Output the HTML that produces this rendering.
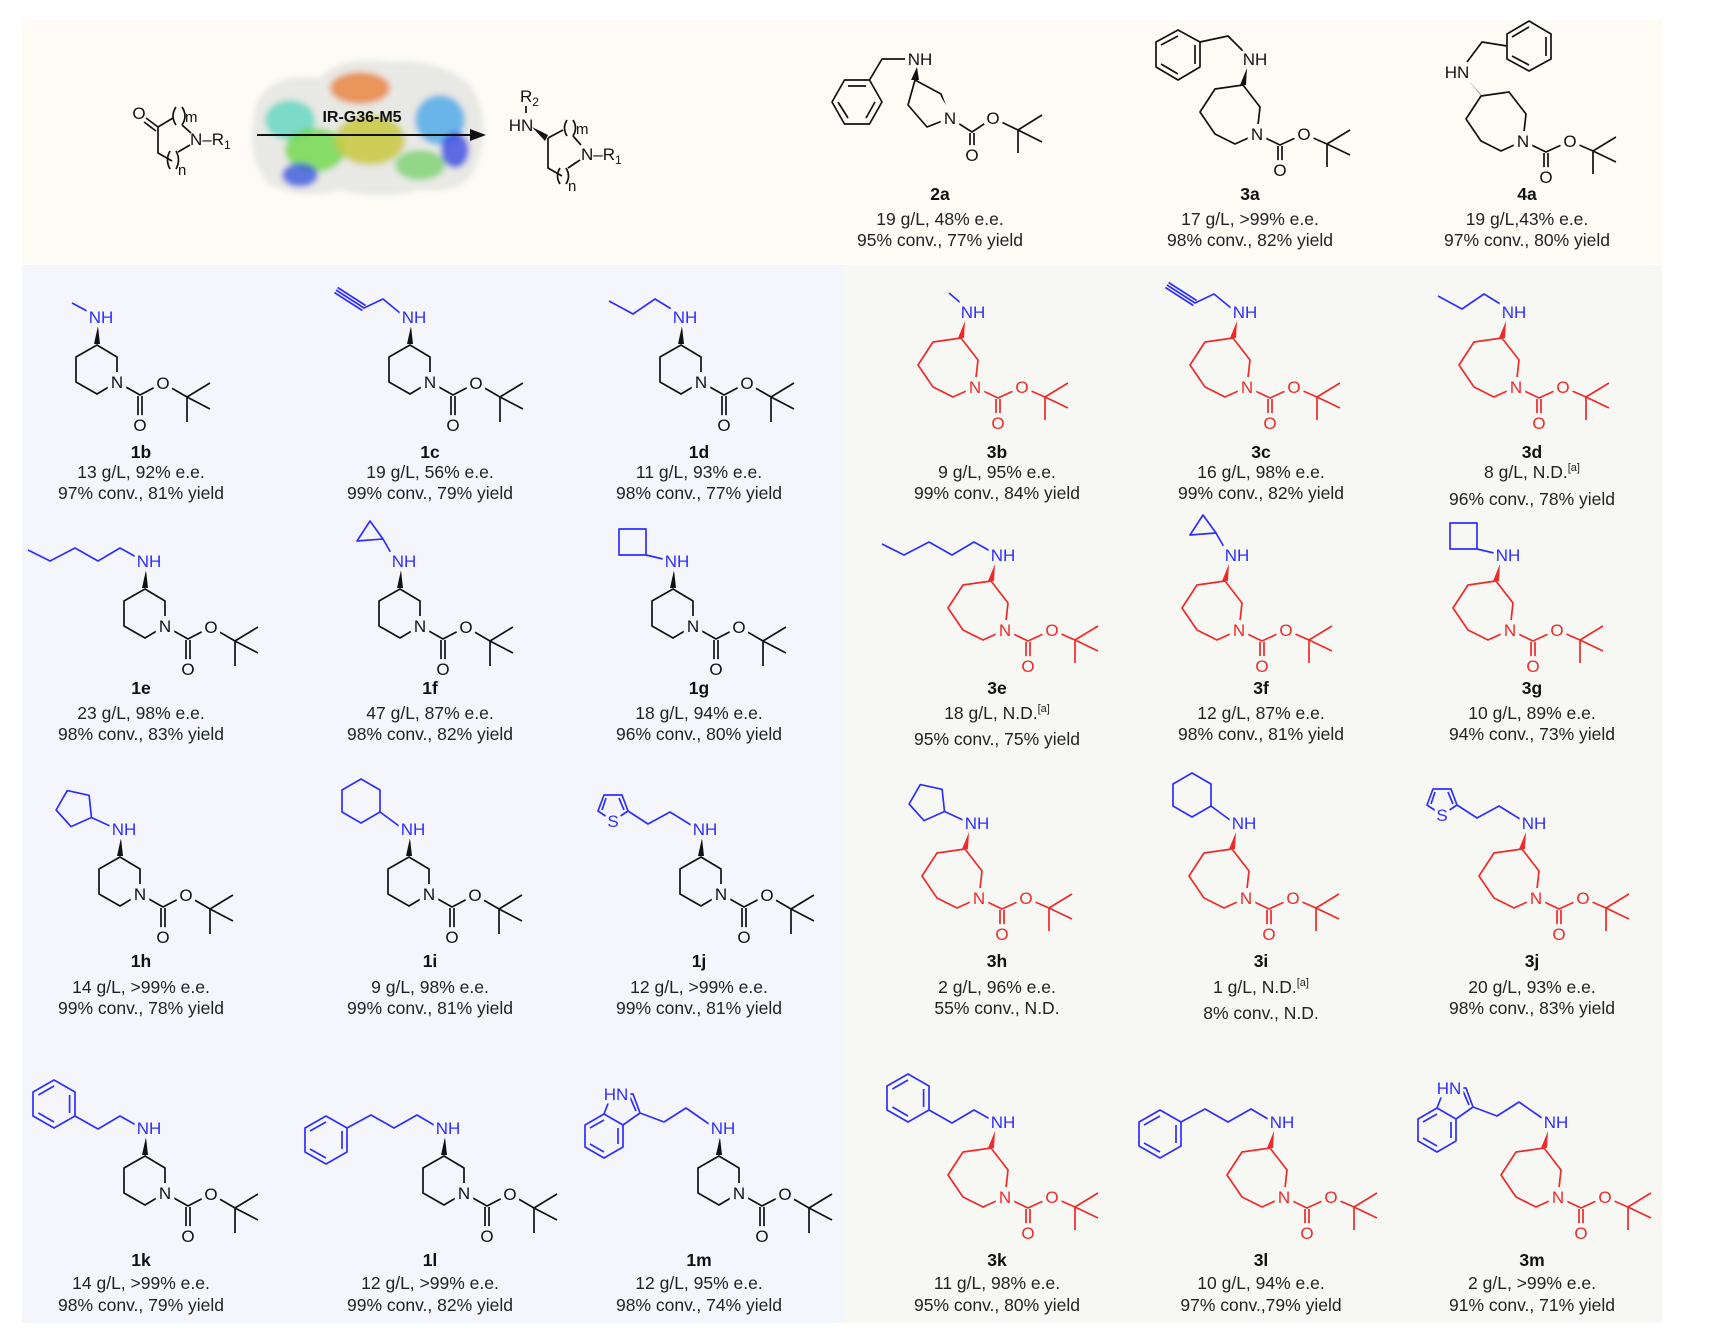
<!DOCTYPE html>
<html><head><meta charset="utf-8"><style>
html,body{margin:0;padding:0;background:#fff;}
svg{display:block;font-family:"Liberation Sans",sans-serif;}
.t{font-size:17.5px;fill:#222;text-anchor:middle;}
.id{font-size:17.5px;font-weight:bold;fill:#111;text-anchor:middle;}
.a{font-size:17px;fill:#111;text-anchor:middle;paint-order:stroke;stroke-width:9px;}
.ar{font-size:17px;fill:#ee2a2a;text-anchor:middle;paint-order:stroke;stroke-width:9px;}
.b{font-size:17px;fill:#2e2eff;text-anchor:middle;paint-order:stroke;stroke-width:7px;}
.hL{stroke:#f5f6fb;} .hR{stroke:#f7f8f4;} .hT{stroke:#fdfbf4;}
.k{fill:none;stroke:#111;stroke-width:1.7;stroke-linejoin:round;}
.r{fill:none;stroke:#ee2a2a;stroke-width:1.7;stroke-linejoin:round;}
.bl{fill:none;stroke:#2e2eff;stroke-width:1.7;stroke-linejoin:round;}
</style></head><body>
<svg width="1731" height="1338" viewBox="0 0 1731 1338" xmlns="http://www.w3.org/2000/svg">
<defs>
<path id="pip" class="k" d="M0,0 L20,12 L20,37 L0,49 L-21,37 L-21,12 Z M20,37 L43,50 L66,38 L90,52 L113,38 M90,52 L113,64 M90,52 L90,77 M41,51 L41,75 M45,51 L45,75"/>
<path id="azp" class="r" d="M0,0 L17,22 L14,49 L-8,59 L-28,49 L-43,27 L-28,4 Z M14,49 L37,60 L61,49 L84,59 L107,45 M84,59 L107,70 M84,59 L84,82 M35,61 L35,83 M39,61 L39,83"/>
<path id="azk" class="k" d="M0,0 L17,22 L14,49 L-8,59 L-28,49 L-43,27 L-28,4 Z M14,49 L37,60 L61,49 L84,59 L107,45 M84,59 L107,70 M84,59 L84,82 M35,61 L35,83 M39,61 L39,83"/>
<path id="s-me" class="bl" d="M-13,-6 L-28,-14"/>
<path id="s-me3" class="bl" d="M-10,-8 L-23,-19"/>
<path id="s-prg" class="bl" d="M-13,-4 L-30,-18 L-49,-9 L-77,-27 M-47.4,-11.5 L-75.4,-29.5 M-50.6,-6.5 L-78.6,-24.5"/>
<path id="s-pr" class="bl" d="M-11,-7 L-29,-18 L-51,-3 L-75,-16"/>
<path id="s-pent" class="bl" d="M-10,-3 L-28,-13 L-50,0 L-73,-13 L-98,0 L-120,-11"/>
<path id="s-cpr" class="bl" d="M-12,-8 L-20,-22 M-20,-22 L-46,-20 L-33,-40 Z"/>
<path id="s-cbu" class="bl" d="M-13,-2 L-30,-6 M-30,-6 L-30,-32 L-57,-32 L-57,-6 Z"/>
<path id="s-cpe" class="bl" d="M-13,-3 L-31.5,-11.5 M-31.5,-11.5 L-52,-2.4 L-66.9,-19 L-55.7,-38.4 L-33.9,-33.7 Z"/>
<path id="s-chx" class="bl" d="M-13,-3 L-32,-17 M-32,-17 L-51,-6 L-70,-17 L-70,-39 L-51,-50 L-32,-39 Z"/>
<path id="s-thio" class="bl" d="M-13,-4 L-34,-17 L-56,-5 L-76,-18 M-76,-18 L-82,-34 L-100,-34 L-106,-18 L-91,-8 Z M-80,-19 L-85,-31 M-98,-31 L-102,-19"/>
<path id="s-phet" class="bl" d="M-12,-3 L-28,-12 L-50,1 L-73,-12 M-73,-12 L-94,0 L-115,-12 L-115,-36 L-94,-48 L-73,-36 Z M-94,-6 L-109.6,-15 M-109.6,-33 L-94,-42 M-78.4,-33 L-78.4,-15"/>
<path id="s-phpr" class="bl" d="M-13,-3 L-30,-13 L-53,0 L-76,-13 L-100,0 M-100,0 L-100,24 L-121,36 L-142,24 L-142,0 L-121,-12 Z M-105,3 L-105,21 M-121,30 L-137,21 M-137,3 L-121,-6"/>
<path id="s-ind" class="bl" d="M-13,-4 L-36,-20 L-58,-6 L-82,-15 L-99,-3 L-118,-14 L-137,-3 L-137,19 L-118,30 L-99,19 L-99,-3 M-82,-15 L-89,-34 L-104,-34 M-118,-14 L-113,-27 M-86,-17 L-92,-31 M-104,0 L-104,16 M-132,0 L-118,-8 M-132,16 L-118,24"/>
</defs>

<rect x="22" y="20" width="1640" height="244" fill="#fdfbf4"/>
<rect x="22" y="265" width="821" height="1058" fill="#f5f6fb"/>
<rect x="843" y="265" width="819" height="1058" fill="#f7f8f4"/>

<g>
<text class="a hT" x="139" y="119">O</text>
<path class="k" d="M146,118 L158,127 M144,122 L156,131 M158,127 L173,118 M158,127 L158,153 L172,161 M176,107 Q170,116 176,125 M182,107 Q188,116 182,125 M182,125 L191,133 M170,151 Q165,160 170,169 M176,151 Q181,160 176,169 M178,152 L190,145"/>
<text x="185" y="122" style="font-size:15px;fill:#111">m</text>
<text x="190" y="145" style="font-size:17px;fill:#111">N–R<tspan style="font-size:12px" dy="4">1</tspan></text>
<text x="178" y="175" style="font-size:15px;fill:#111">n</text>
</g>
<defs><filter id="bl1"><feGaussianBlur stdDeviation="3"/></filter></defs>
<g filter="url(#bl1)">
<path d="M255,110 Q265,72 320,78 Q340,55 390,62 Q440,58 470,85 Q492,120 478,160 Q470,195 420,190 Q380,200 340,190 Q300,200 270,185 Q245,160 255,110 Z" fill="#e8e8e4"/>
<ellipse cx="290" cy="120" rx="25" ry="20" fill="#5fd6c0" opacity="0.8"/>
<ellipse cx="315" cy="150" rx="30" ry="22" fill="#6ed848" opacity="0.8"/>
<ellipse cx="370" cy="140" rx="35" ry="25" fill="#c8c840" opacity="0.85"/>
<ellipse cx="360" cy="88" rx="30" ry="16" fill="#e8803a" opacity="0.8"/>
<ellipse cx="440" cy="120" rx="25" ry="25" fill="#4aa8e8" opacity="0.8"/>
<ellipse cx="300" cy="175" rx="18" ry="12" fill="#3a5ae0" opacity="0.8"/>
<ellipse cx="420" cy="165" rx="25" ry="15" fill="#6ed060" opacity="0.7"/>
<ellipse cx="455" cy="150" rx="14" ry="18" fill="#3a4ae0" opacity="0.8"/>
</g>
<path d="M257,135 L472,135" stroke="#111" stroke-width="2"/>
<polygon points="470,129 486,135 470,141" fill="#111"/>
<text x="362" y="122" style="font-size:16px;font-weight:bold;fill:#111;text-anchor:middle">IR-G36-M5</text>
<g>
<text x="520" y="102" style="font-size:17px;fill:#111">R<tspan style="font-size:12px" dy="4">2</tspan></text>
<path class="k" d="M526,106 L526,113 M548,138 L563,130 M548,138 L548,168 L562,176 M567,120 Q562,128 567,136 M573,120 Q578,128 573,136 M573,136 L581,145 M560,168 Q555,176 560,184 M566,168 Q571,176 566,184 M568,168 L580,160"/>
<polygon points="532,127 548,135 545,141" fill="#111"/>
<text x="521" y="131" style="font-size:17px;fill:#111;text-anchor:middle">HN</text>
<text x="576" y="134" style="font-size:15px;fill:#111">m</text>
<text x="581" y="160" style="font-size:17px;fill:#111">N–R<tspan style="font-size:12px" dy="4">1</tspan></text>
<text x="568" y="191" style="font-size:15px;fill:#111">n</text>
</g>

<!-- 2a -->
<g>
<path class="k" d="M915,80 L941,94 L950,118 L927,127 L908,105 Z M950,118 L972,132 L993,118 L1018,130 L1042,115 M1018,130 L1042,142 M1018,130 L1018,153 M970,133 L970,152 M974,133 L974,152 M905,59 L882,59 L869.5,80 M869.5,80 L882,102 L869.5,124 L844.5,124 L832,102 L844.5,80 Z M875,102 L866,118 M848,118 L838,102 M848,86 L866,86"/>
<polygon points="911,80 919,80 917,67" fill="#111"/>
<text class="a hT" x="950" y="124">N</text><text class="a hT" x="972" y="161">O</text><text class="a hT" x="993" y="124">O</text>
<text class="a hT" x="920" y="65" style="stroke-width:5px">NH</text>
</g>
<!-- 3a -->
<g transform="translate(1243,85)">
<use href="#azk"/><polygon points="-3,0 3,0 4,-17" fill="#111"/>
<path class="k" d="M1,-33 L-15,-49 L-43,-43 M-43,-43 L-43,-18 L-65,-5 L-87,-18 L-87,-43 L-65,-55 Z M-48,-40 L-48,-21 M-65,-11 L-82,-21 M-82,-40 L-65,-49"/>
<text class="a hT" x="14" y="55">N</text><text class="a hT" x="37" y="91">O</text><text class="a hT" x="61" y="55">O</text>
<text class="a hT" x="12" y="-20" style="stroke-width:5px">NH</text>
</g>
<!-- 4a -->
<g transform="translate(1509,92)">
<use href="#azk"/><polygon points="-30,1 -25,6 -41,-12" fill="#111"/>
<path class="k" d="M-42,-30 L-27,-50 L-2,-46 M-2,-46 L-2,-58 L20,-71 L42,-58 L42,-33 L20,-21 L-2,-33 Z M3,-55 L20,-65 M37,-55 L37,-36 M20,-27 L3,-36"/>
<text class="a hT" x="14" y="55">N</text><text class="a hT" x="37" y="91">O</text><text class="a hT" x="61" y="55">O</text>
<text class="a hT" x="-52" y="-14" style="stroke-width:5px">HN</text>
</g>
<text class="id" x="940" y="200">2a</text><text class="t" x="940" y="225">19 g/L, 48% e.e.</text><text class="t" x="940" y="246">95% conv., 77% yield</text>
<text class="id" x="1250" y="200">3a</text><text class="t" x="1250" y="225">17 g/L, &gt;99% e.e.</text><text class="t" x="1250" y="246">98% conv., 82% yield</text>
<text class="id" x="1527" y="200">4a</text><text class="t" x="1527" y="225">19 g/L,43% e.e.</text><text class="t" x="1527" y="246">97% conv., 80% yield</text>

<use href="#s-me" x="100" y="317"/>
<use href="#s-prg" x="413" y="317"/>
<use href="#s-pr" x="684" y="317"/>
<use href="#s-pent" x="148" y="561"/>
<use href="#s-cpr" x="403" y="561"/>
<use href="#s-cbu" x="676" y="561"/>
<use href="#s-cpe" x="123" y="829"/>
<use href="#s-chx" x="412" y="829"/>
<use href="#s-thio" x="704" y="829"/>
<text class="b hL" x="613" y="827">S</text>
<use href="#s-phet" x="148" y="1128"/>
<use href="#s-phpr" x="447" y="1128"/>
<use href="#s-ind" x="722" y="1128"/>
<text class="b hL" x="616" y="1100">HN</text>

<use href="#s-me3" x="972" y="312"/>
<use href="#s-prg" x="1244" y="312"/>
<use href="#s-pr" x="1513" y="312"/>
<use href="#s-pent" x="1002" y="555"/>
<use href="#s-cpr" x="1236" y="555"/>
<use href="#s-cbu" x="1507" y="555"/>
<use href="#s-cpe" x="976" y="823"/>
<use href="#s-chx" x="1243" y="823"/>
<use href="#s-thio" x="1533" y="823"/>
<text class="b hR" x="1442" y="821">S</text>
<use href="#s-phet" x="1002" y="1122"/>
<use href="#s-phpr" x="1281" y="1122"/>
<use href="#s-ind" x="1555" y="1122"/>
<text class="b hR" x="1449" y="1094">HN</text>

<g transform="translate(97,345)"><use href="#pip"/><polygon points="-3,-1 3,-1 1,-19" fill="#111"/><text class="a hL" x="20" y="43">N</text><text class="a hL" x="43" y="86">O</text><text class="a hL" x="66" y="44">O</text><text class="b hL" x="4" y="-22">NH</text></g>
<g transform="translate(410,345)"><use href="#pip"/><polygon points="-3,-1 3,-1 1,-19" fill="#111"/><text class="a hL" x="20" y="43">N</text><text class="a hL" x="43" y="86">O</text><text class="a hL" x="66" y="44">O</text><text class="b hL" x="4" y="-22">NH</text></g>
<g transform="translate(681,345)"><use href="#pip"/><polygon points="-3,-1 3,-1 1,-19" fill="#111"/><text class="a hL" x="20" y="43">N</text><text class="a hL" x="43" y="86">O</text><text class="a hL" x="66" y="44">O</text><text class="b hL" x="4" y="-22">NH</text></g>
<g transform="translate(145,589)"><use href="#pip"/><polygon points="-3,-1 3,-1 1,-19" fill="#111"/><text class="a hL" x="20" y="43">N</text><text class="a hL" x="43" y="86">O</text><text class="a hL" x="66" y="44">O</text><text class="b hL" x="4" y="-22">NH</text></g>
<g transform="translate(400,589)"><use href="#pip"/><polygon points="-3,-1 3,-1 1,-19" fill="#111"/><text class="a hL" x="20" y="43">N</text><text class="a hL" x="43" y="86">O</text><text class="a hL" x="66" y="44">O</text><text class="b hL" x="4" y="-22">NH</text></g>
<g transform="translate(673,589)"><use href="#pip"/><polygon points="-3,-1 3,-1 1,-19" fill="#111"/><text class="a hL" x="20" y="43">N</text><text class="a hL" x="43" y="86">O</text><text class="a hL" x="66" y="44">O</text><text class="b hL" x="4" y="-22">NH</text></g>
<g transform="translate(120,857)"><use href="#pip"/><polygon points="-3,-1 3,-1 1,-19" fill="#111"/><text class="a hL" x="20" y="43">N</text><text class="a hL" x="43" y="86">O</text><text class="a hL" x="66" y="44">O</text><text class="b hL" x="4" y="-22">NH</text></g>
<g transform="translate(409,857)"><use href="#pip"/><polygon points="-3,-1 3,-1 1,-19" fill="#111"/><text class="a hL" x="20" y="43">N</text><text class="a hL" x="43" y="86">O</text><text class="a hL" x="66" y="44">O</text><text class="b hL" x="4" y="-22">NH</text></g>
<g transform="translate(701,857)"><use href="#pip"/><polygon points="-3,-1 3,-1 1,-19" fill="#111"/><text class="a hL" x="20" y="43">N</text><text class="a hL" x="43" y="86">O</text><text class="a hL" x="66" y="44">O</text><text class="b hL" x="4" y="-22">NH</text></g>
<g transform="translate(145,1156)"><use href="#pip"/><polygon points="-3,-1 3,-1 1,-19" fill="#111"/><text class="a hL" x="20" y="43">N</text><text class="a hL" x="43" y="86">O</text><text class="a hL" x="66" y="44">O</text><text class="b hL" x="4" y="-22">NH</text></g>
<g transform="translate(444,1156)"><use href="#pip"/><polygon points="-3,-1 3,-1 1,-19" fill="#111"/><text class="a hL" x="20" y="43">N</text><text class="a hL" x="43" y="86">O</text><text class="a hL" x="66" y="44">O</text><text class="b hL" x="4" y="-22">NH</text></g>
<g transform="translate(719,1156)"><use href="#pip"/><polygon points="-3,-1 3,-1 1,-19" fill="#111"/><text class="a hL" x="20" y="43">N</text><text class="a hL" x="43" y="86">O</text><text class="a hL" x="66" y="44">O</text><text class="b hL" x="4" y="-22">NH</text></g>

<g transform="translate(961,338)"><use href="#azp"/><polygon points="-3,0 3,0 4,-17" fill="#ee2a2a"/><text class="ar hR" x="14" y="55">N</text><text class="ar hR" x="37" y="91">O</text><text class="ar hR" x="61" y="55">O</text><text class="b hR" x="12" y="-20">NH</text></g>
<g transform="translate(1233,338)"><use href="#azp"/><polygon points="-3,0 3,0 4,-17" fill="#ee2a2a"/><text class="ar hR" x="14" y="55">N</text><text class="ar hR" x="37" y="91">O</text><text class="ar hR" x="61" y="55">O</text><text class="b hR" x="12" y="-20">NH</text></g>
<g transform="translate(1502,338)"><use href="#azp"/><polygon points="-3,0 3,0 4,-17" fill="#ee2a2a"/><text class="ar hR" x="14" y="55">N</text><text class="ar hR" x="37" y="91">O</text><text class="ar hR" x="61" y="55">O</text><text class="b hR" x="12" y="-20">NH</text></g>
<g transform="translate(991,581)"><use href="#azp"/><polygon points="-3,0 3,0 4,-17" fill="#ee2a2a"/><text class="ar hR" x="14" y="55">N</text><text class="ar hR" x="37" y="91">O</text><text class="ar hR" x="61" y="55">O</text><text class="b hR" x="12" y="-20">NH</text></g>
<g transform="translate(1225,581)"><use href="#azp"/><polygon points="-3,0 3,0 4,-17" fill="#ee2a2a"/><text class="ar hR" x="14" y="55">N</text><text class="ar hR" x="37" y="91">O</text><text class="ar hR" x="61" y="55">O</text><text class="b hR" x="12" y="-20">NH</text></g>
<g transform="translate(1496,581)"><use href="#azp"/><polygon points="-3,0 3,0 4,-17" fill="#ee2a2a"/><text class="ar hR" x="14" y="55">N</text><text class="ar hR" x="37" y="91">O</text><text class="ar hR" x="61" y="55">O</text><text class="b hR" x="12" y="-20">NH</text></g>
<g transform="translate(965,849)"><use href="#azp"/><polygon points="-3,0 3,0 4,-17" fill="#ee2a2a"/><text class="ar hR" x="14" y="55">N</text><text class="ar hR" x="37" y="91">O</text><text class="ar hR" x="61" y="55">O</text><text class="b hR" x="12" y="-20">NH</text></g>
<g transform="translate(1232,849)"><use href="#azp"/><polygon points="-3,0 3,0 4,-17" fill="#ee2a2a"/><text class="ar hR" x="14" y="55">N</text><text class="ar hR" x="37" y="91">O</text><text class="ar hR" x="61" y="55">O</text><text class="b hR" x="12" y="-20">NH</text></g>
<g transform="translate(1522,849)"><use href="#azp"/><polygon points="-3,0 3,0 4,-17" fill="#ee2a2a"/><text class="ar hR" x="14" y="55">N</text><text class="ar hR" x="37" y="91">O</text><text class="ar hR" x="61" y="55">O</text><text class="b hR" x="12" y="-20">NH</text></g>
<g transform="translate(991,1148)"><use href="#azp"/><polygon points="-3,0 3,0 4,-17" fill="#ee2a2a"/><text class="ar hR" x="14" y="55">N</text><text class="ar hR" x="37" y="91">O</text><text class="ar hR" x="61" y="55">O</text><text class="b hR" x="12" y="-20">NH</text></g>
<g transform="translate(1270,1148)"><use href="#azp"/><polygon points="-3,0 3,0 4,-17" fill="#ee2a2a"/><text class="ar hR" x="14" y="55">N</text><text class="ar hR" x="37" y="91">O</text><text class="ar hR" x="61" y="55">O</text><text class="b hR" x="12" y="-20">NH</text></g>
<g transform="translate(1544,1148)"><use href="#azp"/><polygon points="-3,0 3,0 4,-17" fill="#ee2a2a"/><text class="ar hR" x="14" y="55">N</text><text class="ar hR" x="37" y="91">O</text><text class="ar hR" x="61" y="55">O</text><text class="b hR" x="12" y="-20">NH</text></g>

<text class="id" x="141" y="458">1b</text><text class="t" x="141" y="478">13 g/L, 92% e.e.</text><text class="t" x="141" y="499">97% conv., 81% yield</text>
<text class="id" x="430" y="458">1c</text><text class="t" x="430" y="478">19 g/L, 56% e.e.</text><text class="t" x="430" y="499">99% conv., 79% yield</text>
<text class="id" x="699" y="458">1d</text><text class="t" x="699" y="478">11 g/L, 93% e.e.</text><text class="t" x="699" y="499">98% conv., 77% yield</text>
<text class="id" x="997" y="458">3b</text><text class="t" x="997" y="478">9 g/L, 95% e.e.</text><text class="t" x="997" y="499">99% conv., 84% yield</text>
<text class="id" x="1261" y="458">3c</text><text class="t" x="1261" y="478">16 g/L, 98% e.e.</text><text class="t" x="1261" y="499">99% conv., 82% yield</text>
<text class="id" x="1532" y="458">3d</text><text class="t" x="1532" y="478">8 g/L, N.D.<tspan style="font-size:11px" dy="-7">[a]</tspan></text><text class="t" x="1532" y="505">96% conv., 78% yield</text>
<text class="id" x="141" y="694">1e</text><text class="t" x="141" y="719">23 g/L, 98% e.e.</text><text class="t" x="141" y="740">98% conv., 83% yield</text>
<text class="id" x="430" y="694">1f</text><text class="t" x="430" y="719">47 g/L, 87% e.e.</text><text class="t" x="430" y="740">98% conv., 82% yield</text>
<text class="id" x="699" y="694">1g</text><text class="t" x="699" y="719">18 g/L, 94% e.e.</text><text class="t" x="699" y="740">96% conv., 80% yield</text>
<text class="id" x="997" y="694">3e</text><text class="t" x="997" y="719">18 g/L, N.D.<tspan style="font-size:11px" dy="-7">[a]</tspan></text><text class="t" x="997" y="745">95% conv., 75% yield</text>
<text class="id" x="1261" y="694">3f</text><text class="t" x="1261" y="719">12 g/L, 87% e.e.</text><text class="t" x="1261" y="740">98% conv., 81% yield</text>
<text class="id" x="1532" y="694">3g</text><text class="t" x="1532" y="719">10 g/L, 89% e.e.</text><text class="t" x="1532" y="740">94% conv., 73% yield</text>
<text class="id" x="141" y="967">1h</text><text class="t" x="141" y="993">14 g/L, &gt;99% e.e.</text><text class="t" x="141" y="1014">99% conv., 78% yield</text>
<text class="id" x="430" y="967">1i</text><text class="t" x="430" y="993">9 g/L, 98% e.e.</text><text class="t" x="430" y="1014">99% conv., 81% yield</text>
<text class="id" x="699" y="967">1j</text><text class="t" x="699" y="993">12 g/L, &gt;99% e.e.</text><text class="t" x="699" y="1014">99% conv., 81% yield</text>
<text class="id" x="997" y="967">3h</text><text class="t" x="997" y="993">2 g/L, 96% e.e.</text><text class="t" x="997" y="1014">55% conv., N.D.</text>
<text class="id" x="1261" y="967">3i</text><text class="t" x="1261" y="993">1 g/L, N.D.<tspan style="font-size:11px" dy="-7">[a]</tspan></text><text class="t" x="1261" y="1019">8% conv., N.D.</text>
<text class="id" x="1532" y="967">3j</text><text class="t" x="1532" y="993">20 g/L, 93% e.e.</text><text class="t" x="1532" y="1014">98% conv., 83% yield</text>
<text class="id" x="141" y="1266">1k</text><text class="t" x="141" y="1289">14 g/L, &gt;99% e.e.</text><text class="t" x="141" y="1311">98% conv., 79% yield</text>
<text class="id" x="430" y="1266">1l</text><text class="t" x="430" y="1289">12 g/L, &gt;99% e.e.</text><text class="t" x="430" y="1311">99% conv., 82% yield</text>
<text class="id" x="699" y="1266">1m</text><text class="t" x="699" y="1289">12 g/L, 95% e.e.</text><text class="t" x="699" y="1311">98% conv., 74% yield</text>
<text class="id" x="997" y="1266">3k</text><text class="t" x="997" y="1289">11 g/L, 98% e.e.</text><text class="t" x="997" y="1311">95% conv., 80% yield</text>
<text class="id" x="1261" y="1266">3l</text><text class="t" x="1261" y="1289">10 g/L, 94% e.e.</text><text class="t" x="1261" y="1311">97% conv.,79% yield</text>
<text class="id" x="1532" y="1266">3m</text><text class="t" x="1532" y="1289">2 g/L, &gt;99% e.e.</text><text class="t" x="1532" y="1311">91% conv., 71% yield</text>
</svg>
</body></html>
